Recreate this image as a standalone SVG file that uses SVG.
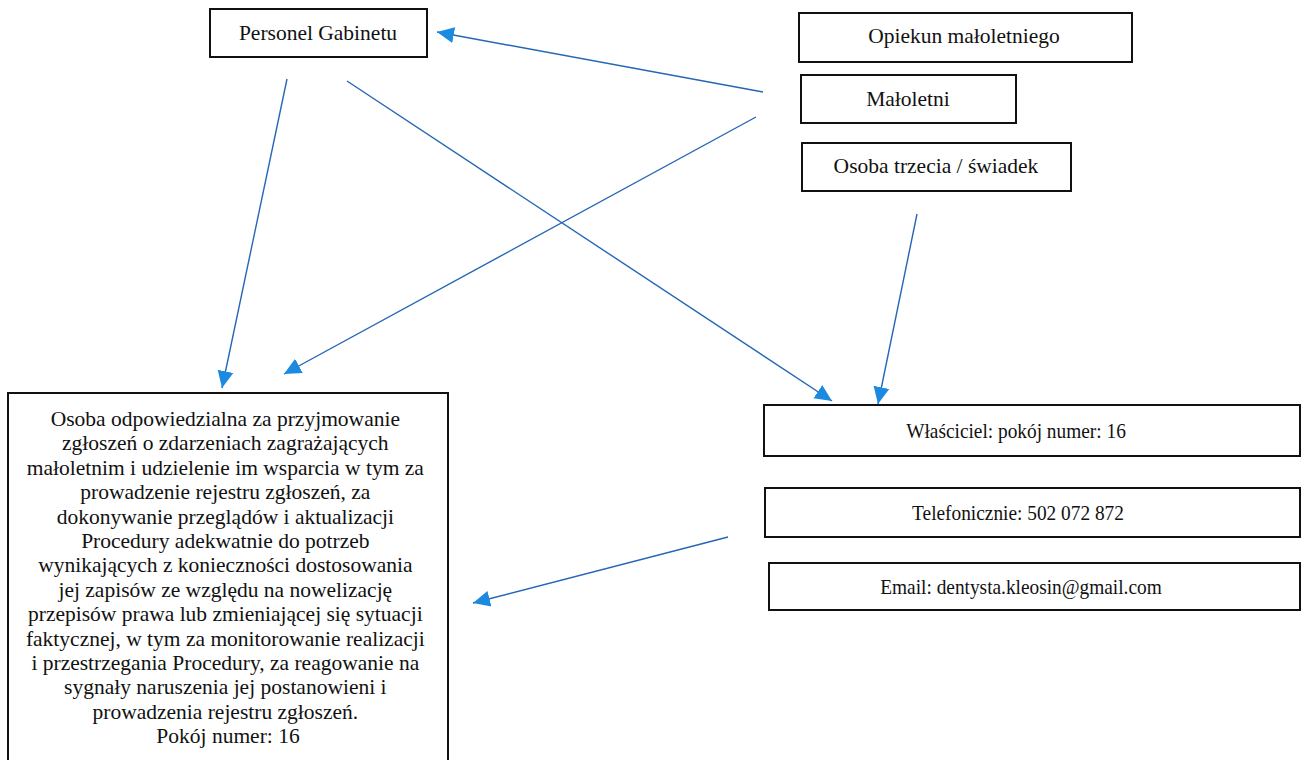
<svg xmlns="http://www.w3.org/2000/svg" width="1303" height="760" viewBox="0 0 1303 760">
<style>
.box{fill:#fff;stroke:#111;stroke-width:2}
.t{font-family:"Liberation Serif","Times New Roman",serif;font-size:21.5px;fill:#111;text-anchor:middle}
.c{stroke:#2566b5;stroke-width:1.4;fill:none;marker-end:url(#ah)}
</style>
<defs>
<marker id="ah" markerUnits="userSpaceOnUse" markerWidth="18" markerHeight="18" refX="17" refY="8" orient="auto" viewBox="0 0 18 16">
<path d="M0,0 L17,8 L0,16 z" fill="#1c8ae0"/>
</marker>
</defs>
<rect width="1303" height="760" fill="#fff"/>
<g id="personel"><rect class="box" x="210" y="9" width="217" height="48"/><text class="t" x="318" y="40">Personel Gabinetu</text></g>
<g id="opiekun"><rect class="box" x="799" y="13" width="333" height="49"/><text class="t" x="964" y="43">Opiekun małoletniego</text></g>
<g id="maloletni"><rect class="box" x="801" y="75" width="215" height="48"/><text class="t" x="908" y="106">Małoletni</text></g>
<g id="osoba"><rect class="box" x="802" y="143" width="269" height="48"/><text class="t" x="936" y="173">Osoba trzecia / świadek</text></g>
<g id="odpowiedzialna"><rect class="box" x="8" y="393" width="440" height="380"/>
<text class="t">
<tspan x="228" y="426">Osoba odpowiedzialna za przyjmowanie</tspan>
<tspan x="228" y="450.4">zgłoszeń o zdarzeniach zagrażających</tspan>
<tspan x="228" y="474.8">małoletnim i udzielenie im wsparcia w tym za</tspan>
<tspan x="228" y="499.2">prowadzenie rejestru zgłoszeń, za</tspan>
<tspan x="228" y="523.6">dokonywanie przeglądów i aktualizacji</tspan>
<tspan x="228" y="548">Procedury adekwatnie do potrzeb</tspan>
<tspan x="228" y="572.4">wynikających z konieczności dostosowania</tspan>
<tspan x="228" y="596.8">jej zapisów ze względu na nowelizację</tspan>
<tspan x="228" y="621.2">przepisów prawa lub zmieniającej się sytuacji</tspan>
<tspan x="228" y="645.6">faktycznej, w tym za monitorowanie realizacji</tspan>
<tspan x="228" y="670">i przestrzegania Procedury, za reagowanie na</tspan>
<tspan x="228" y="694.4">sygnały naruszenia jej postanowieni i</tspan>
<tspan x="228" y="718.8">prowadzenia rejestru zgłoszeń.</tspan>
<tspan x="228" y="743.2">Pokój numer: 16</tspan>
</text></g>
<g id="wlasciciel"><rect class="box" x="764" y="405" width="536" height="51"/><text class="t" transform="translate(1016,438) scale(0.9,1)">Właściciel: pokój numer: 16</text></g>
<g id="telefon"><rect class="box" x="765" y="488" width="535" height="49"/><text class="t" transform="translate(1018,520) scale(0.9,1)">Telefonicznie: 502 072 872</text></g>
<g id="email"><rect class="box" x="769" y="563" width="531" height="47"/><text class="t" transform="translate(1021,594) scale(0.9,1)">Email: dentysta.kleosin@gmail.com</text></g>
<g id="connectors">
<line class="c" x1="763" y1="92" x2="437" y2="32"/>
<line class="c" x1="756" y1="117" x2="284" y2="374"/>
<line class="c" x1="287" y1="79" x2="222" y2="388"/>
<line class="c" x1="347" y1="81" x2="832" y2="401"/>
<line class="c" x1="917" y1="214" x2="878" y2="404"/>
<line class="c" x1="728" y1="537" x2="473" y2="603"/>
</g>
</svg>
